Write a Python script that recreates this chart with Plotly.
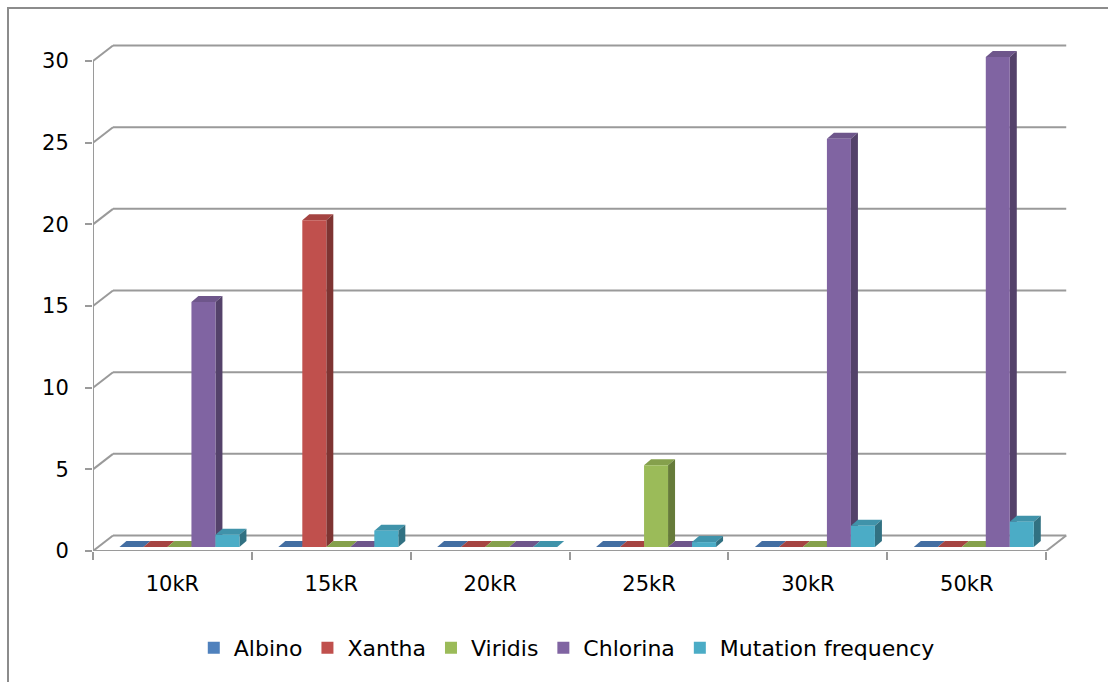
import plotly.graph_objects as go

# ---- data -------------------------------------------------------------
doses = ["10kR", "15kR", "20kR", "25kR", "30kR", "50kR"]
series_names = ["Albino", "Xantha", "Viridis", "Chlorina", "Mutation frequency"]
albino = [0, 0, 0, 0, 0, 0]
xantha = [0, 20, 0, 0, 0, 0]
viridis = [0, 0, 0, 5, 0, 0]
chlorina = [15, 0, 0, 0, 25, 30]
mutation_frequency = [0.75, 1.0, 0, 0.3, 1.3, 1.55]
y_ticks = [0, 5, 10, 15, 20, 25, 30]

series_values = [albino, xantha, viridis, chlorina, mutation_frequency]
front_colors = ["#4F81BD", "#C0504D", "#9BBB59", "#8064A2", "#4BACC6"]


def shade(hex_color, f):
    r, g, b = (int(hex_color[i:i + 2], 16) for i in (1, 3, 5))
    return "#%02X%02X%02X" % (int(r * f), int(g * f), int(b * f))


top_colors = [shade(c, 0.86) for c in front_colors]
side_colors = [shade(c, 0.66) for c in front_colors]

# ---- geometry (pixel sizes converted to axis units) ----------------------
W, H = 1108, 682
ML, MR, MT, MB = 93, 30, 37, 131
PW, PH = W - ML - MR, H - MT - MB
X_RANGE = [-0.5, 5.7]
UX = PW / (X_RANGE[1] - X_RANGE[0])          # px per category
UY = 16.333                                   # px per value unit
Y_RANGE = [0, PH / UY]


def px_x(p):
    return p / UX


def px_y(p):
    return p / UY


bar_w = px_x(24)
front_dx, front_dy = px_x(7), px_y(4)        # bar front plane vs. floor front
depth_dx, depth_dy = px_x(7), px_y(6)        # bar depth
wall_dx, wall_dy = px_x(20), px_y(15.5)      # floor / wall depth
grid_col = "#9A9A9A"
n_cat = len(doses)
x_lo, x_hi = -0.5, n_cat - 0.5


def path(points):
    return "M " + " L ".join(f"{x:.5f},{y:.5f}" for x, y in points) + " Z"


shapes = []


def line_shape(x0, y0, x1, y1, width=2, color=grid_col):
    shapes.append(dict(type="line", xref="x", yref="y", x0=x0, y0=y0, x1=x1, y1=y1,
                       layer="below", line=dict(color=color, width=width)))


# back wall gridlines with their left diagonals
for v in y_ticks[1:]:
    line_shape(x_lo, v, x_lo + wall_dx, v + wall_dy)
    line_shape(x_lo + wall_dx, v + wall_dy, x_hi + wall_dx, v + wall_dy)

# floor outline
line_shape(x_lo, 0, x_lo + wall_dx, wall_dy)
line_shape(x_lo + wall_dx, wall_dy, x_hi + wall_dx, wall_dy)
line_shape(x_hi, 0, x_hi + wall_dx, wall_dy)
line_shape(x_lo, 0, x_hi, 0)
# value axis line
line_shape(x_lo, 0, x_lo, y_ticks[-1])

# top and side faces of each column, drawn left to right
base = front_dy
for i in range(n_cat):
    for j, vals in enumerate(series_values):
        x0 = i + front_dx + (j - 2.5) * bar_w
        x1 = x0 + bar_w
        top = base + vals[i]
        shapes.append(dict(type="path", xref="x", yref="y", layer="below",
                           path=path([(x0, top), (x0 + depth_dx, top + depth_dy),
                                      (x1 + depth_dx, top + depth_dy), (x1, top)]),
                           fillcolor=top_colors[j], line=dict(width=0)))
        if vals[i] > 0:
            shapes.append(dict(type="path", xref="x", yref="y", layer="below",
                               path=path([(x1, base), (x1, top),
                                          (x1 + depth_dx, top + depth_dy),
                                          (x1 + depth_dx, base + depth_dy)]),
                               fillcolor=side_colors[j], line=dict(width=0)))

# outer chart border
shapes.append(dict(type="rect", xref="paper", yref="paper",
                   x0=(8 - ML) / PW, x1=(W + 20 - ML) / PW,
                   y0=(MT + PH - (H + 20)) / PH, y1=(MT + PH - 8) / PH,
                   line=dict(color="#8C8C8C", width=2), fillcolor="rgba(0,0,0,0)",
                   layer="below"))

fig = go.Figure()
cat_pos = list(range(n_cat))
for j, (name, vals) in enumerate(zip(series_names, series_values)):
    fig.add_trace(go.Bar(
        name=name, x=cat_pos, y=vals, base=base,
        width=bar_w, offset=front_dx + (j - 2.5) * bar_w,
        marker=dict(color=front_colors[j], line=dict(width=0)),
        hoverinfo="skip",
    ))

font_family = "DejaVu Sans, Liberation Sans, sans-serif"
fig.update_layout(
    width=W, height=H,
    margin=dict(l=ML, r=MR, t=MT, b=MB, pad=0),
    paper_bgcolor="white", plot_bgcolor="rgba(0,0,0,0)",
    barmode="overlay",
    shapes=shapes,
    font=dict(family=font_family, size=21, color="#000000"),
    showlegend=True,
    legend=dict(orientation="h", x=0.481, xanchor="center",
                y=(MT + PH - 648) / PH, yanchor="middle",
                font=dict(size=22), itemwidth=30, traceorder="normal"),
    xaxis=dict(range=X_RANGE, tickmode="array", tickvals=cat_pos, ticktext=doses,
               showgrid=False, zeroline=False, showline=False, ticks="",
               ticklabelstandoff=18, fixedrange=True,
               minor=dict(tick0=-0.5, dtick=1, ticks="outside", ticklen=8,
                          tickwidth=2, tickcolor=grid_col, showgrid=False)),
    yaxis=dict(range=Y_RANGE, tickmode="array", tickvals=y_ticks,
               showgrid=False, zeroline=False, showline=False,
               ticks="outside", ticklen=7, tickwidth=2, tickcolor=grid_col,
               ticklabelstandoff=12, fixedrange=True),
)

fig.write_html("out.html")
